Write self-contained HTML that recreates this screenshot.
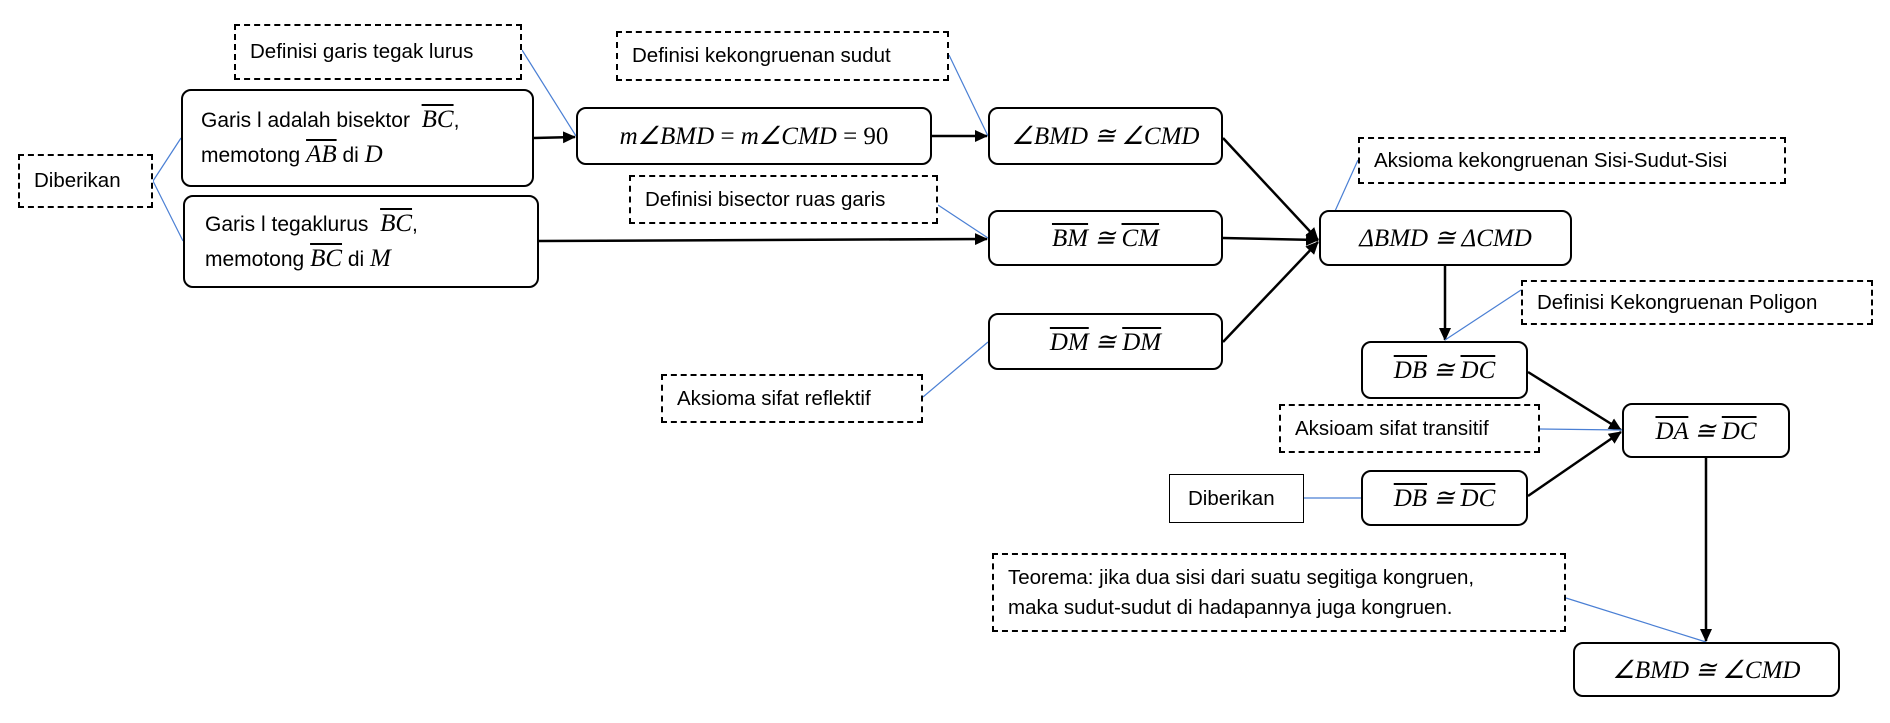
<!DOCTYPE html>
<html><head><meta charset="utf-8"><style>
body{margin:0;width:1890px;height:723px;background:#fff;position:relative;overflow:hidden;font-family:"Liberation Sans",sans-serif;}
.b{position:absolute;box-sizing:border-box;border:2.5px solid #000;border-radius:10px;background:#fff;display:flex;align-items:center;justify-content:center;}
.d{position:absolute;box-sizing:border-box;border:2px dashed #000;background:#fff;display:flex;align-items:center;font-size:20.5px;padding-left:14px;color:#000;white-space:nowrap;}
.m{font-family:"Liberation Serif",serif;font-style:italic;font-size:25px;}
.o{text-decoration:overline;}
.t{font-size:21px;line-height:34px;}
svg{position:absolute;left:0;top:0;}
</style></head><body>
<svg width="1890" height="723">
<defs><marker id="a" markerWidth="13" markerHeight="12" refX="12" refY="6" orient="auto" markerUnits="userSpaceOnUse"><path d="M0,0 L13,6 L0,12 z" fill="#000"/></marker></defs>
<g stroke="#000" stroke-width="2.5" fill="none" marker-end="url(#a)">
<line x1="534" y1="138" x2="575" y2="137"/>
<line x1="539" y1="241" x2="987" y2="239"/>
<line x1="932" y1="136" x2="987" y2="136"/>
<line x1="1223" y1="138" x2="1318" y2="240"/>
<line x1="1223" y1="238" x2="1318" y2="240"/>
<line x1="1223" y1="342" x2="1318" y2="242"/>
<line x1="1445" y1="266" x2="1445" y2="340"/>
<line x1="1528" y1="372" x2="1621" y2="430"/>
<line x1="1528" y1="496" x2="1621" y2="432"/>
<line x1="1706" y1="458" x2="1706" y2="641"/>
</g>
<g stroke="#4a7fd4" stroke-width="1.2">
<line x1="153" y1="181" x2="181" y2="138"/>
<line x1="153" y1="181" x2="183" y2="241"/>
<line x1="522" y1="50" x2="576" y2="136"/>
<line x1="949" y1="55" x2="988" y2="136"/>
<line x1="938" y1="205" x2="988" y2="238"/>
<line x1="923" y1="397" x2="988" y2="342"/>
<line x1="1358" y1="160" x2="1322" y2="240"/>
<line x1="1521" y1="290" x2="1445" y2="340"/>
<line x1="1540" y1="429" x2="1622" y2="430"/>
<line x1="1304" y1="498" x2="1361" y2="498"/>
<line x1="1566" y1="598" x2="1706" y2="642"/>
</g>
</svg>
<div class="d" style="left:18px;top:154px;width:135px;height:54px;">Diberikan</div>
<div class="d" style="left:234px;top:24px;width:288px;height:56px;">Definisi garis tegak lurus</div>
<div class="d" style="left:616px;top:31px;width:333px;height:50px;">Definisi kekongruenan sudut</div>
<div class="d" style="left:629px;top:175px;width:309px;height:49px;">Definisi bisector ruas garis</div>
<div class="d" style="left:661px;top:374px;width:262px;height:49px;">Aksioma sifat reflektif</div>
<div class="d" style="left:1358px;top:137px;width:428px;height:47px;">Aksioma kekongruenan Sisi-Sudut-Sisi</div>
<div class="d" style="left:1521px;top:280px;width:352px;height:45px;">Definisi Kekongruenan Poligon</div>
<div class="d" style="left:1279px;top:404px;width:261px;height:49px;">Aksioam sifat transitif</div>
<div class="d" style="left:992px;top:553px;width:574px;height:79px;line-height:30px;">Teorema: jika dua sisi dari suatu segitiga kongruen,<br>maka sudut-sudut di hadapannya juga kongruen.</div>
<div class="d" style="left:1169px;top:474px;width:135px;height:49px;border:1.5px solid #000;padding-left:18px;">Diberikan</div>

<div class="b" style="left:181px;top:89px;width:353px;height:98px;justify-content:flex-start;padding-left:18px;"><div class="t">Garis l adalah bisektor &nbsp;<span class="m o">BC</span>,<br>memotong <span class="m o">AB</span> di <span class="m">D</span></div></div>
<div class="b" style="left:183px;top:195px;width:356px;height:93px;justify-content:flex-start;padding-left:20px;"><div class="t">Garis l tegaklurus &nbsp;<span class="m o">BC</span>,<br>memotong <span class="m o">BC</span> di <span class="m">M</span></div></div>
<div class="b" style="left:576px;top:107px;width:356px;height:58px;"><span class="m">m∠BMD <span style="font-style:normal">=</span> m∠CMD <span style="font-style:normal">= 90</span></span></div>
<div class="b" style="left:988px;top:107px;width:235px;height:58px;"><span class="m">∠BMD ≅ ∠CMD</span></div>
<div class="b" style="left:988px;top:210px;width:235px;height:56px;"><span class="m"><span class="o">BM</span> ≅ <span class="o">CM</span></span></div>
<div class="b" style="left:988px;top:313px;width:235px;height:57px;"><span class="m"><span class="o">DM</span> ≅ <span class="o">DM</span></span></div>
<div class="b" style="left:1319px;top:210px;width:253px;height:56px;"><span class="m">ΔBMD ≅ ΔCMD</span></div>
<div class="b" style="left:1361px;top:341px;width:167px;height:58px;"><span class="m"><span class="o">DB</span> ≅ <span class="o">DC</span></span></div>
<div class="b" style="left:1622px;top:403px;width:168px;height:55px;"><span class="m"><span class="o">DA</span> ≅ <span class="o">DC</span></span></div>
<div class="b" style="left:1361px;top:470px;width:167px;height:56px;"><span class="m"><span class="o">DB</span> ≅ <span class="o">DC</span></span></div>
<div class="b" style="left:1573px;top:642px;width:267px;height:55px;"><span class="m">∠BMD ≅ ∠CMD</span></div>
</body></html>
